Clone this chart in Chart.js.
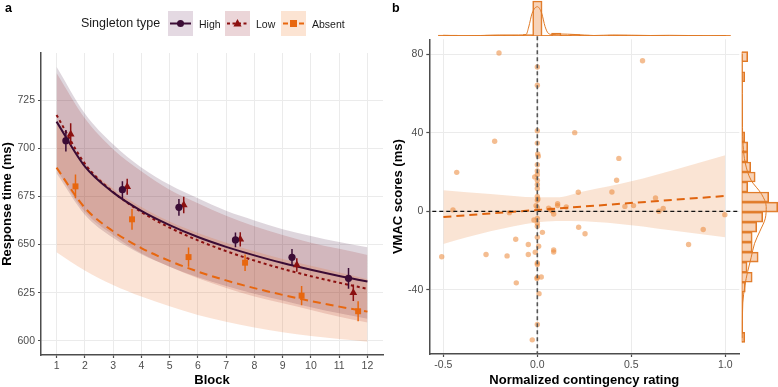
<!DOCTYPE html>
<html><head><meta charset="utf-8">
<script src="https://cdn.jsdelivr.net/npm/chart.js@4.4.1/dist/chart.umd.min.js"></script>
<style>
html,body{margin:0;padding:0;background:#fff;}
body{width:778px;height:387px;overflow:hidden;position:relative;font-family:"Liberation Sans",Arial,sans-serif;}
.box{position:absolute;}
.t{position:absolute;white-space:nowrap;line-height:1;color:#1a1a1a;}
</style></head><body>
<canvas id="ca" class="box" width="390" height="387" style="left:0;top:0"></canvas>
<canvas id="cb" class="box" width="398" height="387" style="left:380px;top:0"></canvas>
<canvas id="ct" class="box" width="311" height="39" style="left:429px;top:0"></canvas>
<canvas id="cr" class="box" width="38" height="315" style="left:740px;top:39px"></canvas>

<div class="t" style="left:5px;top:2px;font-size:12.5px;font-weight:bold;color:#000">a</div>
<div class="t" style="left:392px;top:2px;font-size:12.5px;font-weight:bold;color:#000">b</div>
<div class="t" style="left:81px;top:17px;font-size:12.5px;">Singleton type</div>
<div class="box" style="left:168px;top:11px;width:25px;height:25px;background:#e4d9e2">
 <svg width="25" height="25"><line x1="2" y1="12.5" x2="23" y2="12.5" stroke="#3b0c35" stroke-width="2"/><circle cx="12.5" cy="12.5" r="3.5" fill="#3b0c35"/></svg></div>
<div class="t" style="left:199px;top:18.5px;font-size:10.5px;">High</div>
<div class="box" style="left:225px;top:11px;width:25px;height:25px;background:#ebd5d8">
 <svg width="25" height="25"><line x1="2" y1="12.5" x2="23" y2="12.5" stroke="#8b1010" stroke-width="2" stroke-dasharray="3,2.5"/><polygon points="12.5,8 16.6,15.5 8.4,15.5" fill="#8b1010"/></svg></div>
<div class="t" style="left:256px;top:18.5px;font-size:10.5px;">Low</div>
<div class="box" style="left:281px;top:11px;width:25px;height:25px;background:#fce4d3">
 <svg width="25" height="25"><line x1="2" y1="12.5" x2="23" y2="12.5" stroke="#e8670f" stroke-width="2" stroke-dasharray="5,3"/><rect x="9" y="9" width="7" height="7" fill="#e8670f"/></svg></div>
<div class="t" style="left:312px;top:18.5px;font-size:10.5px;">Absent</div>

<script>
// ---------------- Panel a data ----------------
const blocks = [1,2,3,4,5,6,7,8,9,10,11,12];
const blockTicks = [1,2,3,4,5,6,7,8,9,10,11,12];
const rtTicks = [600,625,650,675,700,725];
const fitHigh   = [713.8,690.6,677.1,667.5,660.1,653.9,648.8,644.4,640.4,636.9,633.7,630.8];
const fitLow    = [717.2,692.0,677.3,666.9,658.8,652.2,646.6,641.7,637.4,633.6,630.2,627.0];
const fitAbsent = [689.9,669.1,656.9,648.2,641.5,636.0,631.4,627.4,623.9,620.7,617.8,615.2];
const bandHighUpper = [742.3,718.0,702.0,690.0,681.0,674.0,667.5,662.5,658.0,654.5,651.3,648.6];
const bandHighLower = [687.0,665.5,653.5,645.0,638.5,633.0,628.5,624.5,621.0,617.5,614.3,611.5];
const bandLowUpper  = [739.0,715.5,699.5,688.0,678.5,671.5,665.0,659.5,655.0,651.0,647.8,644.6];
const bandLowLower  = [689.0,667.0,655.0,645.5,638.5,632.5,627.5,623.0,619.5,616.0,612.5,609.5];
const bandAbsUpper  = [714.5,692.0,679.0,669.5,662.0,656.0,651.0,646.5,642.5,639.0,635.5,632.0];
const bandAbsLower  = [646.0,636.5,629.0,623.0,618.0,613.5,610.0,607.0,604.5,602.5,601.0,599.6];
const ptBlocks = [1.5,3.5,5.5,7.5,9.5,11.5];
const meanHigh   = [703.9,678.5,669.3,652.4,643.4,632.5];
const seHigh     = [5.6,4.3,4.3,3.8,4.3,5.4];
const meanLow    = [707.3,680.0,670.5,652.7,639.4,625.0];
const seLow      = [5.6,4.2,4.3,3.7,3.5,4.3];
const meanAbsent = [680.2,663.1,643.5,640.6,623.5,615.4];
const seAbsent   = [6.2,5.4,5.0,4.3,5.0,5.2];

// ---------------- Panel b data ----------------
const ratingX = [-0.204,0.560,0,0,0,0.199,-0.227,0,0.002,0.005,0.434,0,-0.429,-0.014,0,0.422,0,0,0.218,0.397,0,0.003,0.629,0,0.108,0.108,-0.007,0.154,0.466,0.512,0.670,-0.449,0.647,0,0.071,0.06,0.08,0.087,-0.149,0.998,-0.018,0,0,0,0.220,0.027,0.254,0.883,-0.115,0,-0.048,0.007,0.805,0.087,0.087,-0.011,-0.509,-0.273,-0.161,-0.048,0,0,0.021,0,-0.002,-0.112,0.009,0,-0.027,0,0];
const vmacY   = [80.5,76.6,73.4,64.1,41.0,40.0,35.6,34.7,29.2,28.0,26.9,23.7,19.8,17.5,18.6,15.8,13.6,11.6,9.7,9.8,7.6,6.3,6.8,5.6,3.9,2.9,2.9,2.2,2.5,2.9,1.4,0.7,0,1.9,0.8,1.6,0.2,-1.4,-0.7,-1.7,-4.4,-3.6,-6.1,-7.6,-8.1,-10.7,-11.4,-9.3,-14.2,-13.2,-16.9,-17.8,-16.9,-19.7,-20.7,-20.8,-23.1,-22.0,-22.7,-22.0,-26.3,-27.1,-33.4,-33.6,-34.2,-36.4,-41.9,-57.6,-65.4,20.5,15.8];
const ratingTicks = [-0.5,0,0.5,1.0];
const vmacTicks = [-40,0,40,80];
const fitLineX = [-0.5,1.0];
const fitLineY = [-2.9,7.8];
const ciX     = [-0.5,-0.25,0,0.1,0.25,0.5,0.75,1.0];
const ciUpper = [10.7,8.8,7.1,7.1,10.2,15.3,21.7,28.5];
const ciLower = [-16.6,-10.2,-5.6,-4.9,-5.1,-7.1,-10.2,-13.2];
const refX = [0];
const refY = [0];
// top marginal histogram (rating)
const topBins   = [-0.5,-0.45,-0.4,-0.35,-0.3,-0.25,-0.2,-0.15,-0.1,-0.05,0,0.05,0.1,0.15,0.2,0.25,0.3,0.35,0.4,0.45,0.5,0.55,0.6,0.65,0.7,0.75,0.8,0.85,0.9,0.95,1.0];
const topCounts = [1,1,0,0,0,1,1,1,1,1.5,35,0.5,3,1,1.5,1,0,0,1,1,0.5,0.7,0.5,0.7,0,0,0.5,0.5,0,0,0.5];
const topDensX = [-0.5,-0.4,-0.3,-0.2,-0.1,-0.06,-0.046,-0.028,0,0.023,0.041,0.058,0.08,0.12,0.2,0.3,0.4,0.5,0.6,0.7,0.8,0.9,1.0];
const topDensY = [0.7,0.3,0.5,1,1,1.5,9,22.7,29.3,22.7,9.3,2.7,1.5,2,1.5,0.5,1,0.8,0.5,0.7,0.5,0.3,0.5];
// right marginal histogram (VMAC)
const rightBins   = [78.65,73.55,68.45,63.35,58.25,53.15,48.05,42.95,37.85,32.75,27.65,22.55,17.45,12.35,7.25,2.15,-2.95,-8.05,-13.15,-18.25,-23.35,-28.45,-33.55,-38.65,-43.75,-48.85,-53.95,-59.05,-64.15];
const rightCounts = [2,0,1,0,0,0,0,0,1,2,2,3,4.5,2,9,12,7,5,3.5,3.5,5.5,1.8,3.5,1.2,0.3,0.3,0.3,0.3,1];
const rightDensY = [80,60,42.5,33.6,24.7,15.8,8.7,2.4,-3.8,-10.1,-16.3,-23.4,-30.6,-37.7,-46.6,-64.5];
const rightDensX = [0.17,0.23,0.27,0.47,1.17,3.13,6.63,8.17,7.83,6.07,4.3,3.17,2.0,1.07,0.37,0.13];

// ---------------- helpers ----------------
Chart.defaults.font.family = '"Liberation Sans", Arial, sans-serif';
Chart.defaults.animation = false;
const TICKC = '#4d4d4d', AXC = '#4d4d4d', GRIDC = '#ebebeb';
const xy = (xs, ys) => xs.map((x,i)=>({x:x, y:ys[i]}));
const setTicks = arr => (s => { s.ticks = arr.map(v=>({value:v})); });

const colHigh = '#3b0c35', colLow = '#8b1010', colAbs = '#e8670f';

function errData(xs, m, se){
  const d=[]; xs.forEach((x,i)=>{ d.push({x:x,y:m[i]-se[i]}); d.push({x:x,y:m[i]+se[i]}); d.push({x:x,y:null}); }); return d;
}
const dodge = 0.17;
const xHigh = ptBlocks.map(b=>b-dodge), xLow = ptBlocks.slice(), xAbs = ptBlocks.map(b=>b+dodge);

function lineDS(data, color, dash, order, extra){
  return Object.assign({type:'line', data, borderColor:color, borderWidth:2, borderDash:dash, pointRadius:0,
    cubicInterpolationMode:'monotone', fill:false, order}, extra||{});
}
function bandDS(data, fillTarget, bg, order){
  return {type:'line', data, borderWidth:0, borderColor:'rgba(0,0,0,0)', pointRadius:0,
    cubicInterpolationMode:'monotone', fill: fillTarget===null?false:{target:fillTarget}, backgroundColor:bg, order};
}
const TICKFONT = {size:10.5};
const TITLEFONT = {size:13, weight:'bold', lineHeight:1};

// ---------------- Panel a ----------------
new Chart(document.getElementById('ca'), {
  type:'line',
  data:{datasets:[
    bandDS(xy(blocks,bandHighUpper),1,'rgba(60,12,55,0.17)',20),
    bandDS(xy(blocks,bandHighLower),null,'rgba(0,0,0,0)',20),
    bandDS(xy(blocks,bandLowUpper),3,'rgba(139,10,10,0.15)',19),
    bandDS(xy(blocks,bandLowLower),null,'rgba(0,0,0,0)',19),
    bandDS(xy(blocks,bandAbsUpper),5,'rgba(232,100,20,0.18)',18),
    bandDS(xy(blocks,bandAbsLower),null,'rgba(0,0,0,0)',18),
    lineDS(xy(blocks,fitAbsent),colAbs,[8,5],10),
    lineDS(xy(blocks,fitLow),colLow,[3,3],9),
    lineDS(xy(blocks,fitHigh),colHigh,[],8),
    {type:'line', data:errData(xAbs,meanAbsent,seAbsent), borderColor:colAbs, borderWidth:1.5, pointRadius:0, spanGaps:false, order:6},
    {type:'line', data:errData(xLow,meanLow,seLow), borderColor:colLow, borderWidth:1.5, pointRadius:0, spanGaps:false, order:5},
    {type:'line', data:errData(xHigh,meanHigh,seHigh), borderColor:colHigh, borderWidth:1.5, pointRadius:0, spanGaps:false, order:4},
    {type:'scatter', data:xy(xAbs,meanAbsent), pointStyle:'rect', pointRadius:4.2, backgroundColor:colAbs, borderColor:colAbs, borderWidth:0, order:3},
    {type:'scatter', data:xy(xLow,meanLow), pointStyle:'triangle', pointRadius:4.5, backgroundColor:colLow, borderColor:colLow, borderWidth:0, order:2},
    {type:'scatter', data:xy(xHigh,meanHigh), pointStyle:'circle', pointRadius:3.6, backgroundColor:colHigh, borderColor:colHigh, borderWidth:0, order:1}
  ]},
  options:{
    responsive:false, animation:false,
    layout:{padding:{left:0,right:7,top:53,bottom:0}},
    plugins:{legend:{display:false}, tooltip:{enabled:false}},
    scales:{
      x:{type:'linear', min:0.45, max:12.55,
        afterBuildTicks:setTicks(blockTicks),
        afterFit:s=>{s.height=32;},
        grid:{color:GRIDC, lineWidth:1, tickColor:AXC, tickLength:3, tickWidth:1.2},
        border:{display:true,color:AXC,width:1.5},
        ticks:{color:TICKC, font:TICKFONT, padding:2, maxRotation:0, autoSkip:false},
        title:{display:true, text:'Block', color:'#000', font:TITLEFONT, padding:{top:0,bottom:0}}
      },
      y:{type:'linear', min:592.7, max:749.4,
        afterBuildTicks:setTicks(rtTicks),
        afterFit:s=>{s.width=41;},
        grid:{color:GRIDC, lineWidth:1, tickColor:AXC, tickLength:3, tickWidth:1.2},
        border:{display:true,color:AXC,width:1.5},
        ticks:{color:TICKC, font:TICKFONT, padding:3},
        title:{display:true, text:'Response time (ms)', color:'#000', font:TITLEFONT, padding:{top:1,bottom:0}}
      }
    }
  }
});

// ---------------- Panel b ----------------
const refLines = {id:'refLines', afterDatasetsDraw(chart){
  const o = chart.options.plugins.refLines; if(!o) return;
  const {ctx, chartArea:a, scales:{x,y}} = chart;
  ctx.save();
  ctx.setLineDash([4,3]);
  ctx.lineWidth = 1.3; ctx.strokeStyle = '#111';
  o.y.forEach(v=>{ const py=y.getPixelForValue(v); ctx.beginPath(); ctx.moveTo(a.left+3,py); ctx.lineTo(a.right,py); ctx.stroke(); });
  ctx.lineWidth = 1.6; ctx.strokeStyle = '#555';
  o.x.forEach(v=>{ const px=x.getPixelForValue(v); ctx.beginPath(); ctx.moveTo(px,a.top-3); ctx.lineTo(px,a.bottom); ctx.stroke(); });
  ctx.restore();
}};
const PT = 'rgba(235,135,55,0.55)';
new Chart(document.getElementById('cb'), {
  type:'scatter',
  data:{datasets:[
    {type:'line', data:xy(ciX,ciUpper), borderWidth:0, borderColor:'rgba(0,0,0,0)', pointRadius:0, cubicInterpolationMode:'monotone', fill:{target:1}, backgroundColor:'rgba(232,120,40,0.2)', order:10},
    {type:'line', data:xy(ciX,ciLower), borderWidth:0, borderColor:'rgba(0,0,0,0)', pointRadius:0, cubicInterpolationMode:'monotone', fill:false, order:10},
    {type:'scatter', data:xy(ratingX,vmacY), pointRadius:2.7, backgroundColor:PT, borderWidth:0, order:3},
    {type:'line', data:xy(fitLineX,fitLineY), borderColor:'#e0640f', borderWidth:2, borderDash:[8,5], pointRadius:0, fill:false, order:1}
  ]},
  plugins:[refLines],
  options:{
    responsive:false, animation:false,
    layout:{padding:{left:0,right:38.7,top:39.3,bottom:0}},
    plugins:{legend:{display:false}, tooltip:{enabled:false}, refLines:{x:refX, y:refY}},
    scales:{
      x:{type:'linear', min:-0.575, max:1.075,
        afterBuildTicks:setTicks(ratingTicks),
        afterFit:s=>{s.height=33;},
        grid:{color:GRIDC, lineWidth:1, tickColor:AXC, tickLength:3, tickWidth:1.2},
        border:{display:true,color:AXC,width:1.5},
        ticks:{color:TICKC, font:TICKFONT, padding:2, callback:v=>v.toFixed(1)},
        title:{display:true, text:'Normalized contingency rating', color:'#000', font:TITLEFONT, padding:{top:0,bottom:0}}
      },
      y:{type:'linear', min:-72.6, max:87.5,
        afterBuildTicks:setTicks(vmacTicks),
        afterFit:s=>{s.width=49.3;},
        grid:{color:GRIDC, lineWidth:1, tickColor:AXC, tickLength:3, tickWidth:1.2},
        border:{display:true,color:AXC,width:1.5},
        ticks:{color:TICKC, font:TICKFONT, padding:3},
        title:{display:true, text:'VMAC scores (ms)', color:'#000', font:TITLEFONT, padding:{top:12,bottom:0}}
      }
    }
  }
});

// ---------------- top marginal ----------------
const HFILL = 'rgba(236,150,85,0.42)', HLINE = '#e07a26';
new Chart(document.getElementById('ct'), {
  type:'bar',
  data:{datasets:[
    {type:'line', data:xy(topDensX,topDensY), borderColor:HLINE, borderWidth:1, pointRadius:0, cubicInterpolationMode:'monotone', fill:false, order:1},
    {type:'line', data:[{x:topBins[0]-0.025,y:0},{x:topBins[topBins.length-1]+0.025,y:0}], borderColor:HLINE, borderWidth:1.5, pointRadius:0, order:2},
    {type:'bar', data:xy(topBins,topCounts), backgroundColor:HFILL, borderColor:HLINE, borderWidth:1, barPercentage:1, categoryPercentage:1, order:3}
  ]},
  options:{
    responsive:false, animation:false,
    layout:{padding:{left:0,right:0,top:0,bottom:3}},
    plugins:{legend:{display:false}, tooltip:{enabled:false}},
    scales:{
      x:{type:'linear', min:-0.575, max:1.075, display:false, offset:false},
      y:{type:'linear', min:0, max:36, display:false}
    }
  }
});

// ---------------- right marginal ----------------
new Chart(document.getElementById('cr'), {
  type:'bar',
  data:{datasets:[
    {type:'line', indexAxis:'y', data:xy(rightDensX,rightDensY), borderColor:HLINE, borderWidth:1, pointRadius:0, cubicInterpolationMode:'monotone', fill:false, order:1},
    {type:'line', indexAxis:'y', data:[{x:0,y:rightBins[0]+2.55},{x:0,y:rightBins[rightBins.length-1]-2.55}], borderColor:HLINE, borderWidth:1.5, pointRadius:0, order:2},
    {type:'bar', data:xy(rightCounts,rightBins), backgroundColor:HFILL, borderColor:HLINE, borderWidth:1, barPercentage:1, categoryPercentage:1, order:3}
  ]},
  options:{
    indexAxis:'y',
    responsive:false, animation:false,
    layout:{padding:{left:1.7,right:0,top:0.3,bottom:0}},
    plugins:{legend:{display:false}, tooltip:{enabled:false}},
    scales:{
      x:{type:'linear', min:0, max:12.1, display:false},
      y:{type:'linear', min:-72.6, max:87.5, display:false, offset:false}
    }
  }
});
</script>
</body></html>
